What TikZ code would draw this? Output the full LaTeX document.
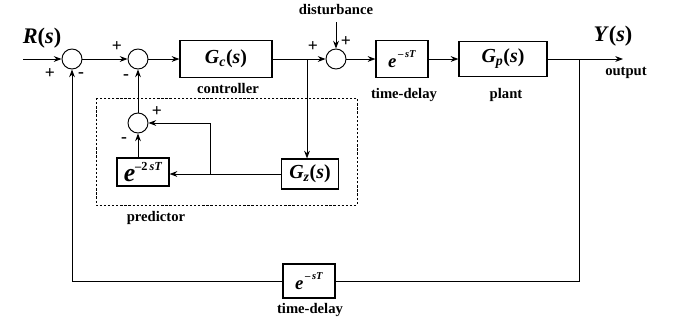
\documentclass[tikz,border=0pt]{standalone}
\usepackage{fontspec}
\setmainfont{Liberation Serif}
\usepackage{tikz}
\usetikzlibrary{arrows.meta,positioning}

\newcommand{\tfunc}[2]{\fontsize{17}{17}\selectfont\textit{#1}\textsubscript{\textit{#2}}(\textit{s})}
\newcommand{\delayexp}{\fontsize{16}{16}\selectfont\textit{e}\raisebox{1.1ex}{\fontsize{9}{9}\selectfont\,\textendash\,\textit{sT}}}
\newcommand{\bigdelay}{\fontsize{22}{22}\selectfont\textit{e}\raisebox{1.0ex}{\fontsize{10.5}{10.5}\selectfont\textendash2\,\textit{sT}}}

\begin{document}
\begin{tikzpicture}[
    >=Stealth,
    x=0.03cm, y=-0.03cm,
    every node/.style={font=\fontsize{12.5}{14}\selectfont\bfseries},
    block/.style={draw, line width=1pt, inner sep=0pt},
    sumnode/.style={draw, circle, line width=0.8pt, minimum size=0.6cm, inner sep=0pt},
    sign/.style={font=\fontsize{15}{15}\selectfont\bfseries, inner sep=0pt},
    link/.style={line width=0.8pt}
]
    \useasboundingbox (0,0) rectangle (675,325);

    % === FORWARD PATH ===
    \coordinate (in) at (23,59);
    \node[sumnode] (s1) at (72,59) {};
    \node[sumnode] (s2) at (138,59) {};
    \node[block, minimum width=2.76cm, minimum height=1.1cm] (gc) at (226,59) {\tfunc{G}{c}};
    \coordinate (tapu) at (307,59);
    \node[sumnode] (s3) at (336,59) {};
    \coordinate (dist) at (336,22);
    \node[block, minimum width=1.56cm, minimum height=1.1cm] (d1) at (402,59) {\delayexp};
    \node[block, minimum width=2.64cm, minimum height=1.05cm] (gp) at (503,59) {\tfunc{G}{p}};
    \coordinate (tapy) at (579,59);
    \coordinate (out) at (623,59);

    \draw[link, ->] (in) -- (s1);
    \draw[link, ->] (s1) -- (s2);
    \draw[link, ->] (s2) -- (gc);
    \draw[link, ->] (gc) -- (s3);
    \draw[link, ->] (dist) -- (s3);
    \draw[link, ->] (s3) -- (d1);
    \draw[link, ->] (d1) -- (gp);
    \draw[link, ->] (gp) -- (out);

    % === PREDICTOR ===
    \draw[dashed, dash pattern=on 2pt off 1.5pt, line width=0.6pt] (96,98) rectangle (357,205);
    \node[sumnode] (s4) at (138,123) {};
    \node[block, minimum width=1.56cm, minimum height=0.84cm] (d2) at (143,172) {\bigdelay};
    \node[block, minimum width=1.71cm, minimum height=0.9cm] (gz) at (310,174) {\tfunc{G}{z}};
    \coordinate (tapz) at (210,174);

    \draw[link, ->] (tapu) -- (tapu |- gz.north);
    \draw[link, ->] (gz.west) -- (gz.west -| d2.east);
    \draw[link, ->] (tapz) |- (s4.east);
    \draw[link, ->] (s4 |- d2.north) -- (s4);
    \draw[link, ->] (s4) -- (s2);

    % === FEEDBACK ===
    \node[block, minimum width=1.56cm, minimum height=1.02cm] (d3) at (309,281) {\delayexp};
    \draw[link] (tapy) |- (d3.east);
    \draw[link, ->] (d3.west) -| (s1.south);

    % Signs
    \node[sign] (p1) at (50,74) {+};
    \node[sign] (m1) at (81,75) {-};
    \node[sign] (p2) at (117,47) {+};
    \node[sign] (m2) at (126,77) {-};
    \node[sign] (p3) at (313,47) {+};
    \node[sign] (p4) at (346,42) {+};
    \node[sign] (p5) at (157,112) {+};
    \node[sign] (m5) at (124,140) {-};

    % Labels
    \node (rlab) at (42,38) {\fontsize{19}{19}\selectfont\textit{R}(\textit{s})};
    \node (ylab) at (613,36) {\fontsize{19}{19}\selectfont\textit{Y}(\textit{s})};
    \node (distlab) at (336,10) {disturbance};
    \node (ctrllab) at (228,88) {controller};
    \node (dlylab) at (404,95) {time-delay};
    \node (plantlab) at (506,95) {plant};
    \node (outlab) at (626,73) {output};
    \node (predlab) at (156,218) {predictor};
    \node (fblab) at (310,310) {time-delay};
\end{tikzpicture}
\end{document}
